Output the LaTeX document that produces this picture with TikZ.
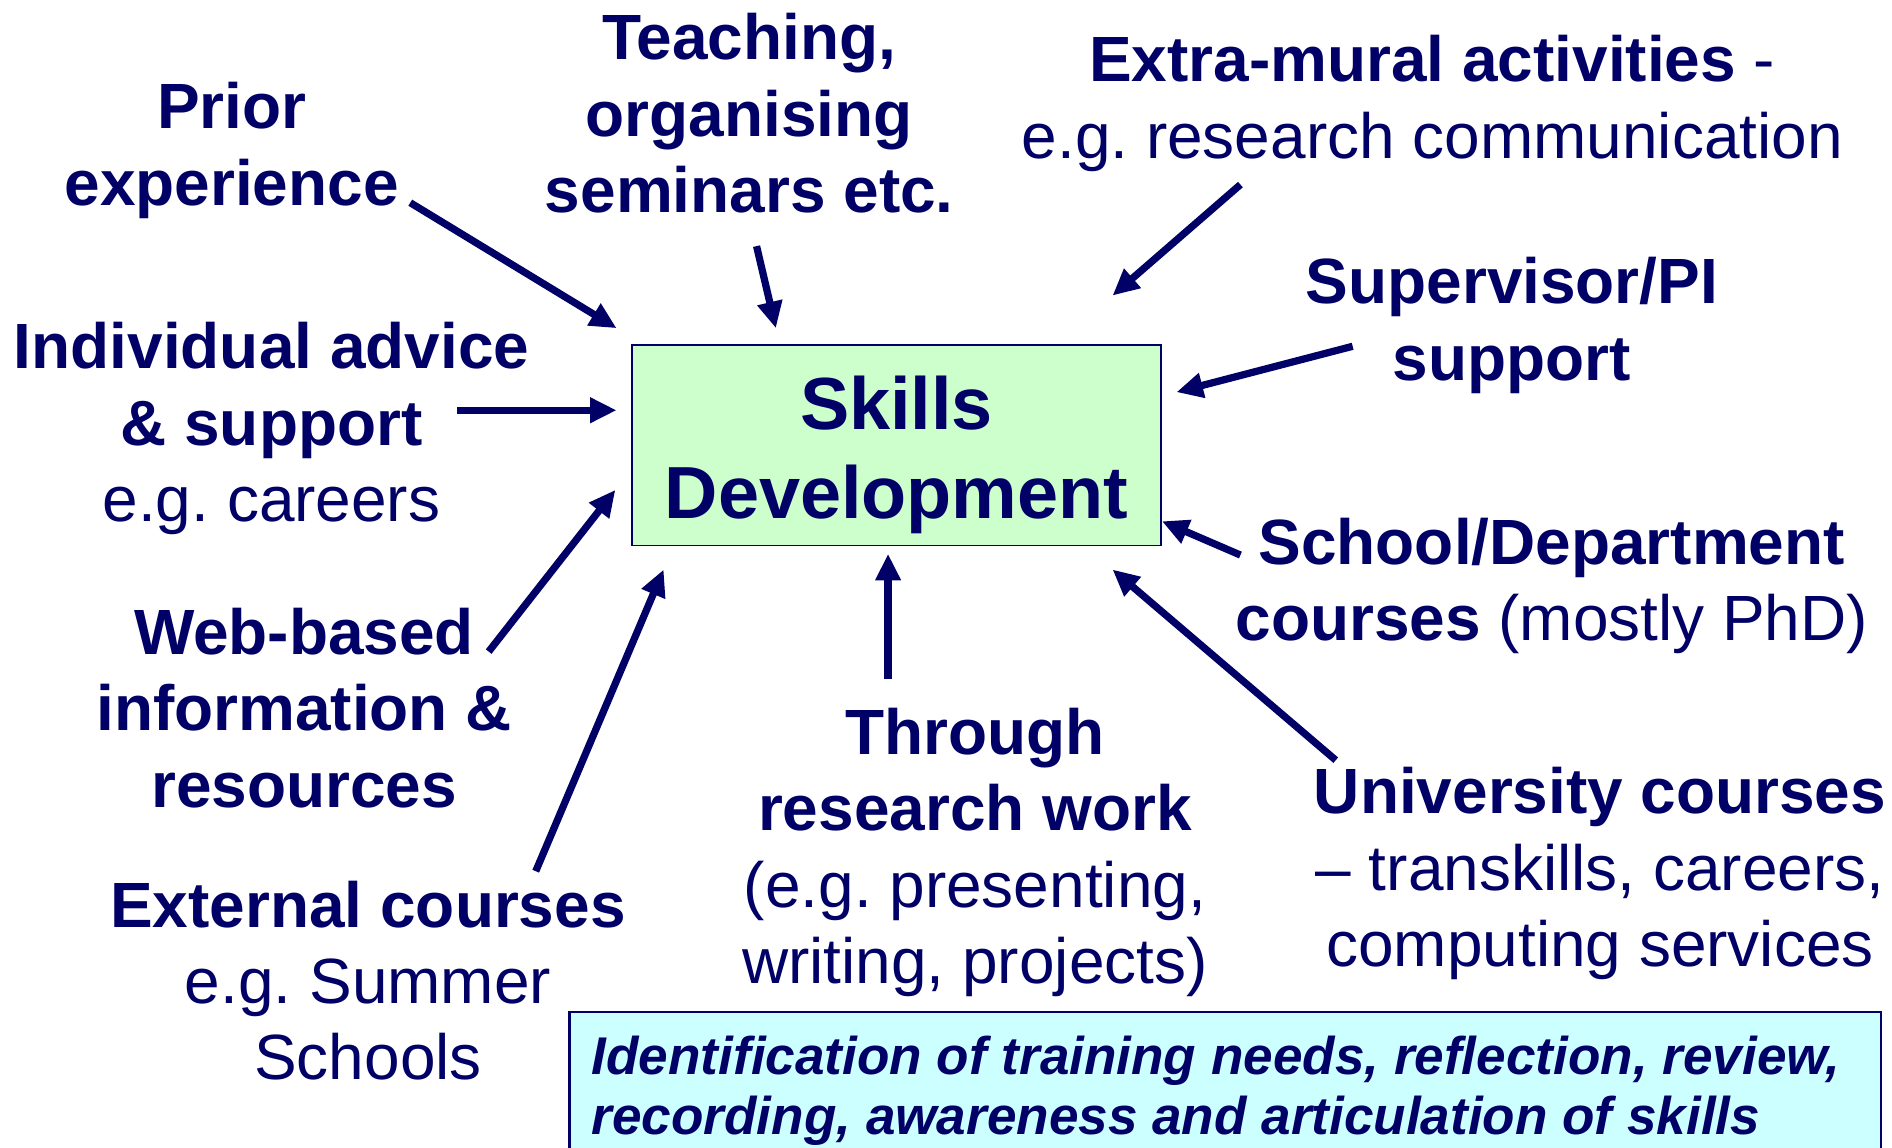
\documentclass[tikz,border=0pt]{standalone}
\usepackage{fontspec}
\setmainfont{Liberation Sans}
\usetikzlibrary{arrows.meta}
\definecolor{navy}{RGB}{0,0,102}
\definecolor{sdgreen}{RGB}{204,255,204}
\definecolor{idcyan}{RGB}{204,255,255}
\frenchspacing
\begin{document}
\begin{tikzpicture}[x=0.5pt,y=-0.5pt,
  lbl/.style={inner sep=0pt, anchor=base, align=center, text=navy,
    font=\fontsize{26.5}{31.6}\selectfont},
  arr/.style={draw=navy, line width=3pt, -{Triangle[length=11pt,width=10pt]}},
  sdbox/.style={draw=navy, line width=0.7pt, fill=sdgreen, inner sep=0pt,
    minimum width=219pt, minimum height=83pt},
  sdtext/.style={inner sep=0pt, anchor=base, align=center, text=navy,
    font=\fontsize{30.6}{37}\selectfont\bfseries},
  idbox/.style={draw=navy, line width=0.9pt, fill=idcyan, inner sep=0pt,
    anchor=north west, minimum width=543.5pt, minimum height=80pt},
  idtext/.style={inner sep=0pt, anchor=base west, align=left, text=navy,
    font=\fontsize{22}{24.6}\selectfont\bfseries\itshape}
]
\clip (0,0) rectangle (1568,951);
\fill[white] (0,0) rectangle (1568,951);

% central box
\node[sdbox] (sd) at (743,369) {};
\node[sdtext] (sdt) at (743,430) {Skills\\Development};

% bottom box
\node[idbox] (idb) at (471,838) {};
\node[idtext] (idt) at (490,940) {Identification of training needs, reflection, review,\\recording, awareness and articulation of skills};

% labels (anchor = baseline of last line)
\node[lbl] (prior) at (192,170) {\textbf{Prior}\\\textbf{experience}};
\node[lbl] (teach) at (621,176) {\textbf{Teaching,}\\\textbf{organising}\\\textbf{seminars etc.}};
\node[lbl] (extra) at (1187,131) {\textbf{Extra-mural activities} -\\e.g. research communication};
\node[lbl] (sup) at (1253,315) {\textbf{Supervisor/PI}\\\textbf{support}};
\node[lbl] (indiv) at (225,432) {\textbf{Individual advice}\\\textbf{\& support}\\e.g. careers};
\node[lbl] (web) at (252,669) {\textbf{Web-based}\\\textbf{information \&}\\\textbf{resources}};
\node[lbl] (ext) at (305,895) {\textbf{External courses}\\e.g. Summer\\Schools};
\node[lbl] (thr) at (808,815) {\textbf{Through}\\\textbf{research work}\\(e.g. presenting,\\writing, projects)};
\node[lbl] (school) at (1286,531) {\textbf{School/Department}\\\textbf{courses} (mostly PhD)};
\node[lbl] (univ) at (1326,801) {\textbf{University courses}\\– transkills, careers,\\computing services};

% arrow end points
\coordinate (priorT) at (340,168);  \coordinate (priorH) at (511,272);
\coordinate (teachT) at (627,204);  \coordinate (teachH) at (643,272);
\coordinate (extraT) at (1028,153); \coordinate (extraH) at (922,245);
\coordinate (supT) at (1121,287);   \coordinate (supH) at (975,325);
\coordinate (indivT) at (379,340);  \coordinate (indivH) at (511,340);
\coordinate (webT) at (405,540);    \coordinate (webH) at (510,406);
\coordinate (extT) at (444,722);    \coordinate (extH) at (550,472);
\coordinate (thrT) at (736,563);    \coordinate (thrH) at (736,459);
\coordinate (schoolT) at (1028,460);\coordinate (schoolH) at (963,432);
\coordinate (univT) at (1107,630);  \coordinate (univH) at (922,472);

\draw[arr] (priorT) -- (priorH);
\draw[arr] (teachT) -- (teachH);
\draw[arr] (extraT) -- (extraH);
\draw[arr] (supT) -- (supH);
\draw[arr] (indivT) -- (indivH);
\draw[arr] (webT) -- (webH);
\draw[arr] (extT) -- (extH);
\draw[arr] (thrT) -- (thrH);
\draw[arr] (schoolT) -- (schoolH);
\draw[arr] (univT) -- (univH);
\end{tikzpicture}
\end{document}
